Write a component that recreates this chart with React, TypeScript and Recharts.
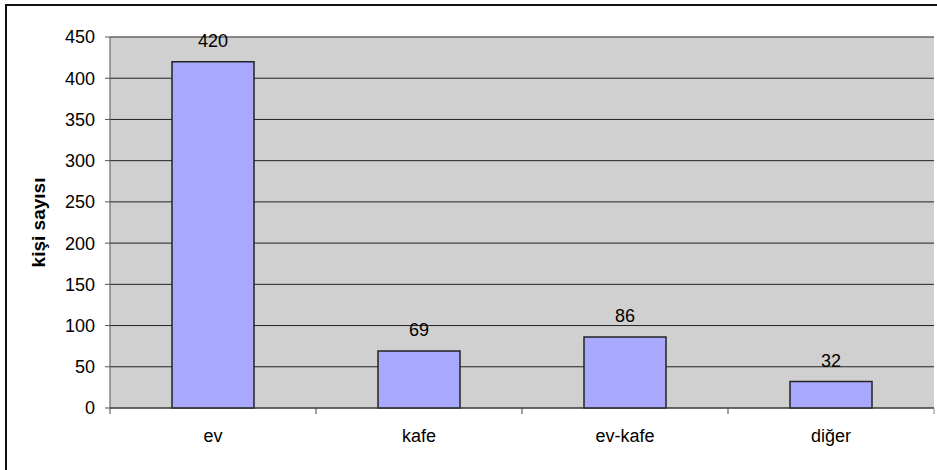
import { BarChart, Bar, XAxis, YAxis, CartesianGrid, LabelList, ReferenceLine } from 'recharts'

const categories = ['ev', 'kafe', 'ev-kafe', 'diğer']
const counts = [420, 69, 86, 32]
const yTicks = [0, 50, 100, 150, 200, 250, 300, 350, 400, 450]

const data = categories.map((name, i) => ({ name, count: counts[i] }))

const FONT = '"Liberation Sans", Arial, sans-serif'

function CategoryTick(props: any) {
  const { x, y, payload, index } = props
  const off = payload?.offset ?? 0
  return (
    <g>
      {off > 0 && <line x1={x - off} x2={x - off} y1={y - 12} y2={y - 6} stroke="#444" />}
      {off > 0 && index === categories.length - 1 && (
        <line x1={x + off} x2={x + off} y1={y - 12} y2={y - 6} stroke="#888" />
      )}
      <text x={x} y={y + 22} textAnchor="middle" fontSize={18} fill="#000" fontFamily={FONT}>
        {payload.value}
      </text>
    </g>
  )
}

export default function App() {
  return (
    <div style={{ position: 'absolute', left: 0, top: 0, width: 937, height: 470, overflow: 'hidden', background: '#fff' }}>
      <div
        style={{
          position: 'absolute',
          left: 5,
          top: 4,
          width: 960,
          height: 500,
          borderLeft: '2px solid #111',
          borderTop: '2px solid #111',
        }}
      />
      <div style={{ position: 'absolute', left: 0, top: 0 }}>
        <BarChart
          width={937}
          height={470}
          data={data}
          margin={{ top: 37, right: 3, bottom: 22, left: 50 }}
          barSize={82}
          style={{ fontFamily: FONT }}
        >
          <CartesianGrid vertical={false} stroke="#222" fill="#D0D0D0" fillOpacity={1} />
          <ReferenceLine y={450} stroke="#888" />
          <XAxis
            dataKey="name"
            height={40}
            axisLine={{ stroke: '#444' }}
            tickLine={false}
            tickSize={0}
            tickMargin={12}
            tick={<CategoryTick />}
            interval={0}
          />
          <YAxis
            width={60}
            domain={[0, 450]}
            ticks={yTicks}
            interval={0}
            axisLine={{ stroke: '#555' }}
            tickLine={{ stroke: '#555' }}
            tickSize={5}
            tickMargin={10}
            tick={{ fontSize: 18, fill: '#000', fontFamily: FONT }}
            label={{
              value: 'kişi sayısı',
              angle: -90,
              position: 'insideLeft',
              dx: -17,
              style: { fontSize: 19, fontWeight: 'bold', fill: '#000', fontFamily: FONT, textAnchor: 'middle' },
            }}
          />
          <YAxis
            yAxisId="r"
            orientation="right"
            width={0}
            tick={false}
            tickLine={false}
            axisLine={{ stroke: '#888' }}
          />
          <Bar dataKey="count" fill="#A8A8FF" stroke="#222" strokeWidth={1.5} isAnimationActive={false}>
            <LabelList dataKey="count" position="top" offset={15} fontSize={18} fill="#000" fontFamily={FONT} />
          </Bar>
        </BarChart>
      </div>
    </div>
  )
}
